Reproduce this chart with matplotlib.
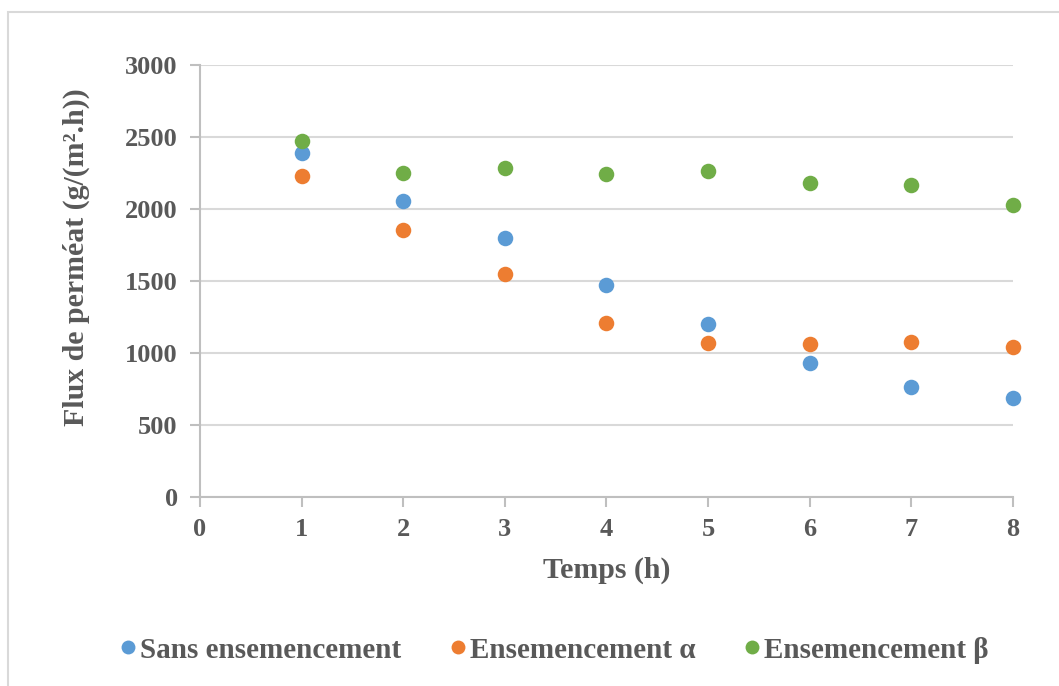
import matplotlib
matplotlib.use("Agg")
import matplotlib.pyplot as plt
from matplotlib.patches import Rectangle
from matplotlib.lines import Line2D

temps = [1, 2, 3, 4, 5, 6, 7, 8]
sans = [2391, 2053, 1796, 1470, 1204, 933, 764, 686]
alpha = [2229, 1856, 1549, 1208, 1069, 1060, 1076, 1040]
beta = [2472, 2247, 2287, 2240, 2266, 2178, 2169, 2025]

series_names = ["Sans ensemencement", "Ensemencement \u03b1", "Ensemencement \u03b2"]
colors = ["#5B9BD5", "#ED7D31", "#70AD47"]
xticks = [0, 1, 2, 3, 4, 5, 6, 7, 8]
yticks = [0, 500, 1000, 1500, 2000, 2500, 3000]

W, H = 1059, 686
plt.rcParams['font.family'] = ['Liberation Serif', 'DejaVu Serif']
plt.rcParams['font.weight'] = 'bold'
txt = "#595959"

fig = plt.figure(figsize=(W / 100, H / 100), dpi=100)
fig.patches.append(Rectangle((8 / W, -0.1), 1.2, (H - 12) / H + 0.1, transform=fig.transFigure,
                             fill=False, edgecolor="#d9d9d9", linewidth=1.5))

ax = fig.add_axes([200 / W, (H - 497) / H, 812.7 / W, 432 / H])
for vals, c, n in zip([sans, alpha, beta], colors, series_names):
    ax.scatter(temps, vals, s=125, color=c, label=n, zorder=3, linewidths=0, clip_on=False)

ax.set_xlim(0, 8)
ax.set_ylim(0, 3000)
ax.set_xticks(xticks)
ax.set_yticks(yticks)
ax.yaxis.grid(True, color="#d9d9d9", linewidth=1.5)
ax.set_axisbelow(True)
for s in ["top", "right"]:
    ax.spines[s].set_visible(False)
for s in ["left", "bottom"]:
    ax.spines[s].set_color("#bfbfbf")
    ax.spines[s].set_linewidth(1.5)
ax.tick_params(axis="both", colors="#bfbfbf", width=1.5, length=7, labelcolor=txt, labelsize=19)
ax.tick_params(axis="y", pad=9)
ax.tick_params(axis="x", pad=8)
for lab in ax.get_xticklabels() + ax.get_yticklabels():
    lab.set_fontweight("bold")

fig.text(607 / W, 1 - 570 / H, "Temps (h)", ha="center", va="center", fontsize=21.5,
         fontweight="bold", color=txt)
fig.text(76 / W, 1 - 257 / H, "Flux de perméat (g/(m\u00b2.h))", ha="center", va="center",
         rotation=90, fontsize=21.5, fontweight="bold", color=txt)

handles = [Line2D([], [], marker="o", linestyle="none", markersize=10, color=c,
                  markeredgewidth=0) for c in colors]
leg = fig.legend(handles, series_names, loc="center", bbox_to_anchor=(553 / W, 1 - 650 / H),
                 ncol=3, frameon=False, fontsize=21, handletextpad=0.05, columnspacing=1.6,
                 handlelength=0.7)
for t in leg.get_texts():
    t.set_color(txt)
    t.set_fontweight("bold")

fig.savefig("out.png", dpi=100)
